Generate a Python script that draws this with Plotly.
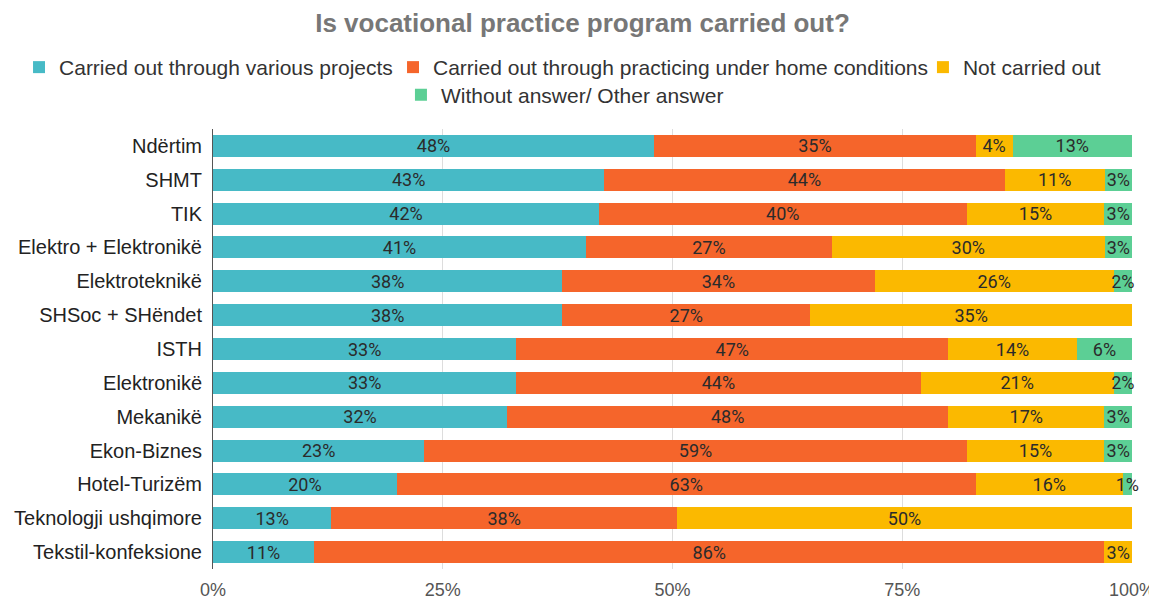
import plotly.graph_objects as go

categories = ["Ndërtim", "SHMT", "TIK", "Elektro + Elektronikë", "Elektroteknikë",
              "SHSoc + SHëndet", "ISTH", "Elektronikë", "Mekanikë", "Ekon-Biznes",
              "Hotel-Turizëm", "Teknologji ushqimore", "Tekstil-konfeksione"]

projects = [48, 43, 42, 41, 38, 38, 33, 33, 32, 23, 20, 13, 11]
home = [35, 44, 40, 27, 34, 27, 47, 44, 48, 59, 63, 38, 86]
not_done = [4, 11, 15, 30, 26, 35, 14, 21, 17, 15, 16, 50, 3]
other = [13, 3, 3, 3, 2, 0, 6, 2, 3, 3, 1, 0, 0]

series = [
    ("Carried out through various projects", projects, "#47bac6"),
    ("Carried out through practicing under home conditions", home, "#f5652b"),
    ("Not carried out", not_done, "#fbb900"),
    ("Without answer/ Other answer", other, "#5ccf95"),
]
# one legend box per entry so the rows sit like the original (x, y in container units)
legend_pos = [(0.0096, 0.8997), (0.3351, 0.8997), (0.7963, 0.8997), (0.342, 0.8533)]

fig = go.Figure()
for i, (name, vals, color) in enumerate(series):
    fig.add_trace(go.Bar(
        y=categories, x=vals, name=name, orientation="h",
        marker=dict(color=color, line=dict(width=0)),
        text=[f"{v}%" if v > 0 else "" for v in vals],
        textposition="inside", insidetextanchor="middle", textangle=0,
        textfont=dict(family="Roboto", size=18, color="#2b2b2b"),
        cliponaxis=False,
        legend="legend" if i == 0 else f"legend{i + 1}",
    ))

# page body has an 8px margin, so the figure is 8px smaller than the window
fig.update_layout(
    barmode="stack", barnorm="percent", bargap=0.35,
    width=1149, height=593,
    margin=dict(l=205, r=25, t=121, b=32, autoexpand=False),
    paper_bgcolor="white", plot_bgcolor="white",
    font=dict(family="Liberation Sans, Arial", size=19, color="#333333"),
    uniformtext=dict(minsize=18, mode="show"),
    title=dict(text="<b>Is vocational practice program carried out?</b>",
               x=0.5, xanchor="center", xref="container", y=0.9747, yanchor="middle",
               font=dict(family="Liberation Sans, Arial", size=26, color="#777777")),
    showlegend=True,
)
for i, (lx, ly) in enumerate(legend_pos):
    key = "legend" if i == 0 else f"legend{i + 1}"
    fig.update_layout({key: dict(orientation="h", xref="container", x=lx, xanchor="left",
                                 yref="container", y=ly, yanchor="middle",
                                 font=dict(size=21, color="#333333"), itemwidth=30,
                                 bgcolor="rgba(0,0,0,0)")})

fig.update_xaxes(range=[0, 100], tickvals=[0, 25, 50, 75, 100],
                 ticktext=["0%", "25%", "50%", "75%", "100%"],
                 showgrid=True, gridcolor="#dddddd", zeroline=False,
                 tickfont=dict(size=18, color="#555555"), ticklabelstandoff=8)
fig.update_yaxes(autorange="reversed", showline=True, linecolor="#555555", linewidth=1,
                 ticks="", tickfont=dict(size=20, color="#222222"), ticklabelstandoff=6)

fig.write_html("out.html")
